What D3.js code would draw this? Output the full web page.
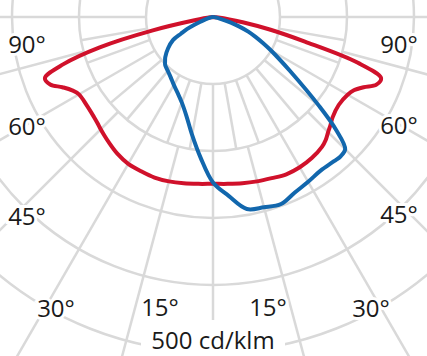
<!DOCTYPE html>
<html>
<head>
<meta charset="utf-8">
<script src="https://cdn.jsdelivr.net/npm/d3@7"></script>
<style>
  body { margin: 0; background: #fff; }
  svg { display: block; }
  text { font-family: "Open Sans", sans-serif; fill: #1a1a1a; }
</style>
</head>
<body>
<svg id="chart" width="427" height="356"></svg>
<script>
// angle from nadir (deg), negative = left half
const angles = [-90, -85, -80, -77.5, -75, -72.5, -70, -67.5, -65, -62.5, -60, -55, -50, -47.5, -45, -42.5, -40, -35, -30, -25, -20, -15, -10, -5,
  0, 5, 10, 15, 20, 25, 30, 35, 40, 42.5, 45, 47.5, 50, 55, 60, 62.5, 65, 67.5, 70, 72.5, 75, 77.5, 80, 85, 90];

// cd/klm, red = C0-C180, blue = C90-C270
const redValues = [0, 4, 28, 92, 175, 234, 267, 263, 248, 237, 231, 230, 232, 234, 237, 240, 243, 249, 253, 254, 255, 254, 252, 250,
  249, 250, 252, 254, 256, 259, 259, 257, 253, 249, 243, 238, 233, 229, 232, 237, 248, 264, 267, 226, 142, 88, 45, 8, 0];

const blueValues = [0, 1, 3, 5, 8, 12, 18, 30, 43, 54, 69, 82, 93, 97, 101, 103, 105, 110, 117, 125, 136, 153, 179, 211,
  247, 268, 291, 294, 297, 289, 284, 280, 281, 282, 279, 249, 207, 140, 100, 84, 70, 57, 42, 28, 16, 9, 5, 2, 0];

const rings = [100, 200, 300, 400, 500, 600];
const innerSpokes = d3.range(-90, 91, 10);
const outerSpokes = d3.range(-90, 91, 15);

const labels = ['90°', '60°', '45°', '30°', '15°'];
const unitLabel = '500 cd/klm';

const svg = d3.select('#chart');
const cx = 213, cy = 17;

const r = d3.scaleLinear().domain([0, 100]).range([0, 67]);
const toRad = d => d * Math.PI / 180;

const g = svg.append('g').attr('transform', `translate(${cx},${cy})`);

// rings
g.selectAll('circle.ring')
  .data(rings)
  .enter().append('circle')
  .attr('class', 'ring')
  .attr('r', d => r(d))
  .attr('fill', 'none')
  .attr('stroke', '#d9d9d9')
  .attr('stroke-width', 2.5);

// spokes: 10 deg in the first band, 15 deg further out
function spoke(sel, from, to) {
  sel.attr('x1', d => r(from) * Math.sin(toRad(d)))
    .attr('y1', d => r(from) * Math.cos(toRad(d)))
    .attr('x2', d => r(to) * Math.sin(toRad(d)))
    .attr('y2', d => r(to) * Math.cos(toRad(d)))
    .attr('stroke', '#d9d9d9')
    .attr('stroke-width', 2.5);
}
g.selectAll('line.inner').data(innerSpokes).enter().append('line')
  .attr('class', 'inner').call(spoke, 100, 200);
g.selectAll('line.outer').data(outerSpokes).enter().append('line')
  .attr('class', 'outer').call(spoke, 200, 700);

// curves
const line = d3.lineRadial()
  .angle(d => Math.PI - toRad(d[0]))
  .radius(d => r(d[1]))
  .curve(d3.curveCatmullRom.alpha(0.5));

g.append('path')
  .datum(angles.map((a, i) => [a, redValues[i]]))
  .attr('d', line)
  .attr('fill', 'none')
  .attr('stroke', '#d0112b')
  .attr('stroke-width', 4)
  .attr('stroke-linejoin', 'round');

g.append('path')
  .datum(angles.map((a, i) => [a, blueValues[i]]))
  .attr('d', line)
  .attr('fill', 'none')
  .attr('stroke', '#1267ad')
  .attr('stroke-width', 4)
  .attr('stroke-linejoin', 'round');

// angle labels
const labelPos = [
  { l: [27, 53], r: [399, 53] },
  { l: [27, 135], r: [399, 134] },
  { l: [27, 225], r: [399, 223] },
  { l: [56, 317], r: [371, 317] },
  { l: [160, 316], r: [268, 316] }
];

labels.forEach((t, i) => {
  ['l', 'r'].forEach(side => {
    svg.append('text')
      .attr('x', labelPos[i][side][0])
      .attr('y', labelPos[i][side][1])
      .attr('text-anchor', 'middle')
      .style('font-size', '24px')
      .style('stroke', '#fff')
      .style('stroke-width', 6)
      .style('paint-order', 'stroke')
      .text(t);
  });
});

svg.append('rect')
  .attr('x', 141).attr('y', 320)
  .attr('width', 144).attr('height', 36)
  .attr('fill', '#fff');

svg.append('text')
  .attr('x', 213)
  .attr('y', 349)
  .attr('text-anchor', 'middle')
  .style('font-size', '24px')
  .text(unitLabel);
</script>
</body>
</html>
